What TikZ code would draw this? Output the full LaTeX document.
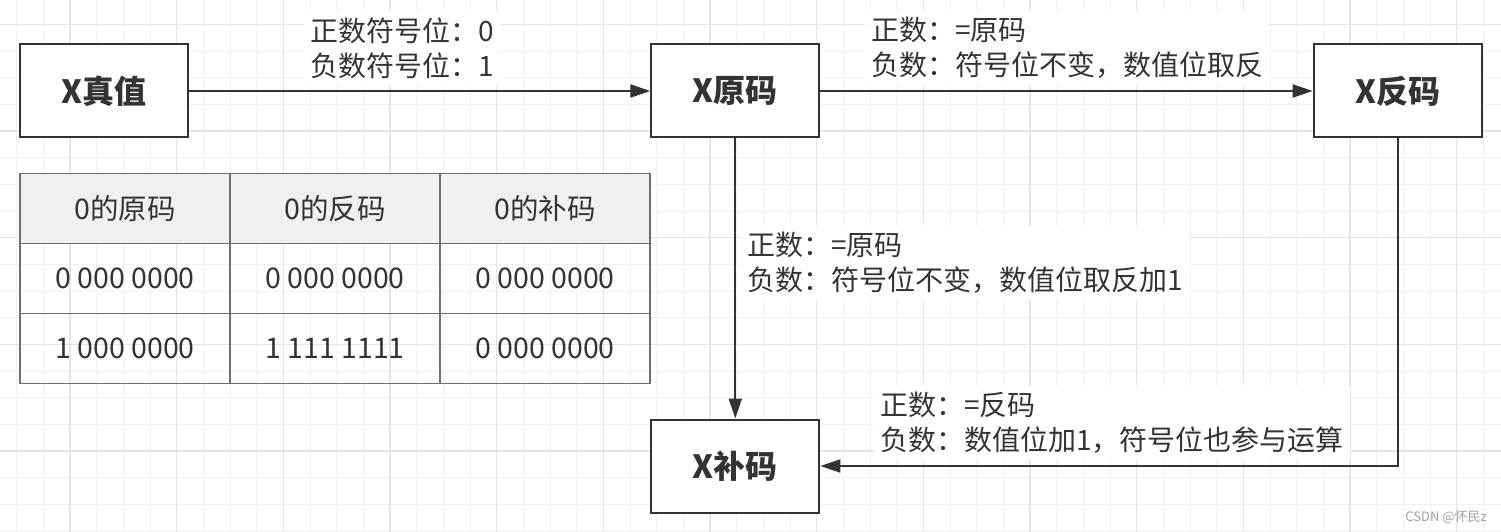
\documentclass[tikz,border=0pt]{standalone}
\usepackage{fontspec}
\setmainfont{Noto Sans CJK SC}
\usetikzlibrary{arrows.meta}
\definecolor{ink}{HTML}{333333}
\definecolor{gridminor}{HTML}{F1F1F1}
\definecolor{gridmajor}{HTML}{E4E4E4}
\definecolor{tblline}{HTML}{6E6E6E}
\definecolor{tblhead}{HTML}{F0F0F0}
\definecolor{wm}{HTML}{A0A0A0}
\begin{document}
\begin{tikzpicture}[x=1pt,y=-1pt,
 box/.style={draw=ink, line width=2pt, fill=white, minimum width=168pt, minimum height=93pt, inner sep=0pt, font=\fontsize{32}{38}\selectfont\bfseries, text=ink},
 lbl/.style={fill=white, text=ink, align=left, anchor=west, inner sep=6pt, font=\fontsize{28}{35}\selectfont},
 conn/.style={draw=ink, line width=2pt, -{Triangle[length=20pt,width=13pt]}},
 cell/.style={draw=tblline, line width=1.5pt, minimum width=210pt, minimum height=70pt, inner sep=0pt, text=ink, font=\fontsize{28.5}{32}\selectfont},
 headcell/.style={cell, fill=tblhead},
 gmin/.style={draw=gridminor, line width=1pt},
 gmaj/.style={draw=gridmajor, line width=1.5pt},
]
\useasboundingbox (0,0) rectangle (1501,532);
\fill[white] (0,0) rectangle (1501,532);
\begin{scope}
\clip (0,0) rectangle (1501,532);
\foreach \i in {0,...,57} \draw[gmin] ({-10+26.667*\i},0) -- ({-10+26.667*\i},532);
\foreach \j in {0,...,20} \draw[gmin] (0,{-2.33+26.667*\j}) -- (1501,{-2.33+26.667*\j});
\foreach \i in {-1,...,14} \draw[gmaj] ({70+106.667*\i},0) -- ({70+106.667*\i},532);
\foreach \j in {0,...,4} \draw[gmaj] (0,{24.33+106.667*\j}) -- (1501,{24.33+106.667*\j});
\end{scope}

% table
\node[headcell] (c11) at (125,208.5) {0的原码};
\node[headcell] (c12) at (335,208.5) {0的反码};
\node[headcell] (c13) at (545,208.5) {0的补码};
\node[cell] (c21) at (125,278.5) {0 000 0000};
\node[cell] (c22) at (335,278.5) {0 000 0000};
\node[cell] (c23) at (545,278.5) {0 000 0000};
\node[cell] (c31) at (125,348.5) {1 000 0000};
\node[cell] (c32) at (335,348.5) {1 111 1111};
\node[cell] (c33) at (545,348.5) {0 000 0000};

% boxes
\node[box] (tv) at (104,91) {X真值};
\node[box] (yuan) at (735.3,91) {X原码};
\node[box] (fan) at (1397.7,91) {X反码};
\node[box] (bu) at (735.3,466) {X补码};

% connectors
\draw[conn] (tv.east) -- (yuan.west);
\draw[conn] (yuan.east) -- (fan.west);
\draw[conn] (yuan.south) -- (bu.north);
\draw[conn] (fan.south) |- (bu.east);

% labels
\node[lbl] (l1) at (304,48) {正数符号位：0\\负数符号位：1};
\node[lbl] (l2) at (865,48) {正数：=原码\\负数：符号位不变，数值位取反};
\node[lbl] (l3) at (741,263) {正数：=原码\\负数：符号位不变，数值位取反加1};
\node[lbl] (l4) at (874,423) {正数：=反码\\负数：数值位加1，符号位也参与运算};

% watermark
\node[font=\fontsize{13}{15}\selectfont, text=wm, anchor=east, inner sep=0pt] (wmk) at (1487,517) {CSDN @怀民z};
\end{tikzpicture}
\end{document}
